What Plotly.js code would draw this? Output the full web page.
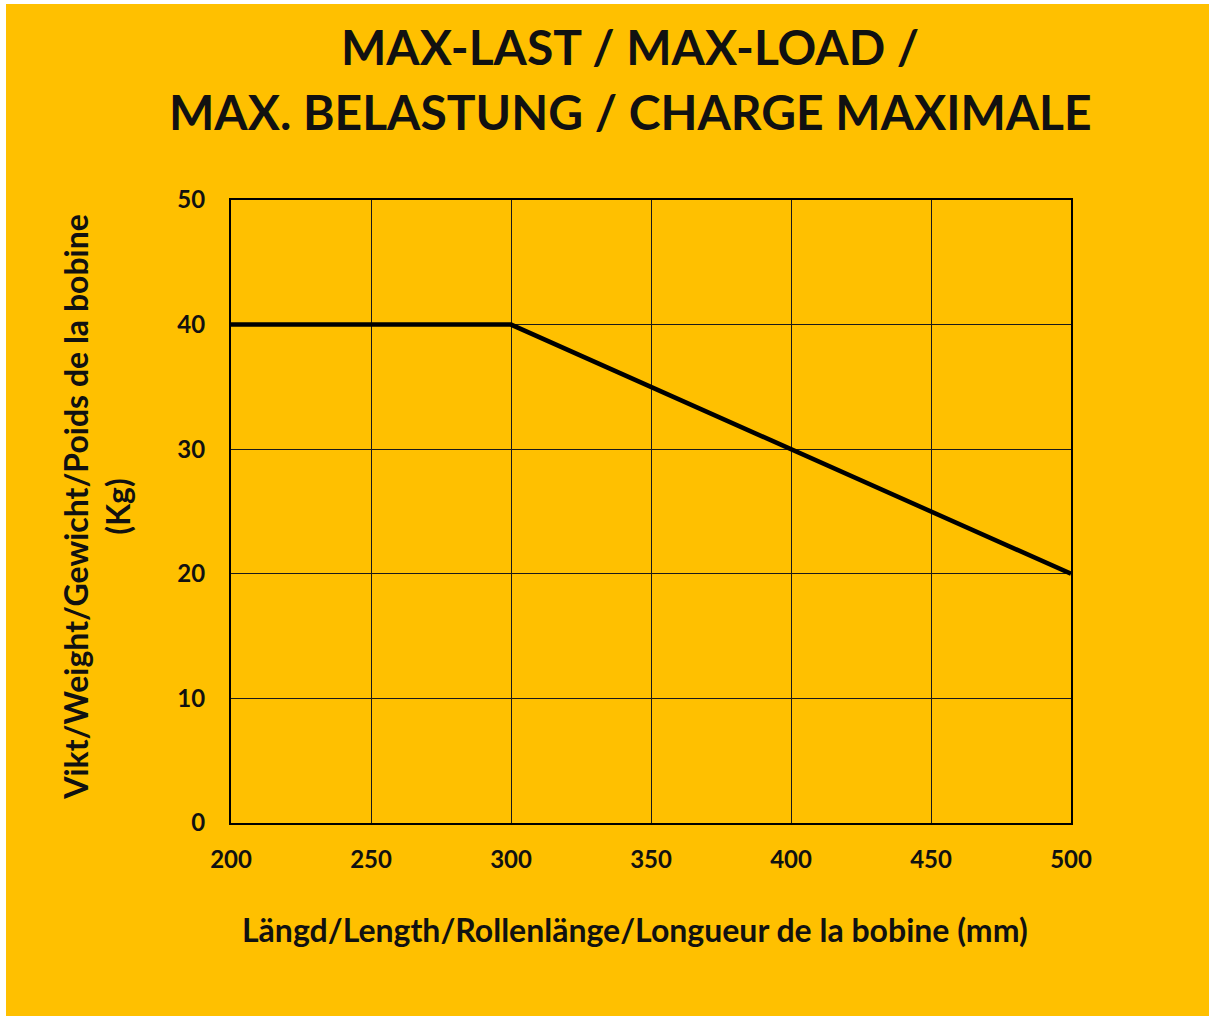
<!DOCTYPE html>
<html>
<head>
<meta charset="utf-8">
<script src="https://cdn.plot.ly/plotly-3.0.1.min.js"></script>
<style>
html,body{margin:0;padding:0;background:#ffffff;}
#chart{position:absolute;left:6px;top:4px;width:1203px;height:1012px;}
</style>
</head>
<body>
<div id="chart"></div>
<script>
const lengthsMm = [200, 300, 500];
const maxLoadKg = [40, 40, 20];
const xTicks = [200, 250, 300, 350, 400, 450, 500];
const yTicks = [0, 10, 20, 30, 40, 50];
const titleLines = ["MAX-LAST / MAX-LOAD /", "MAX. BELASTUNG / CHARGE MAXIMALE"];
const xTitle = "Längd/Length/Rollenlänge/Longueur de la bobine (mm)";
const yTitleLines = ["Vikt/Weight/Gewicht/Poids de la bobine", "(Kg)"];

const FONT = "Lato, 'Open Sans', sans-serif";
const TXT = "#111111";
const BG = "#FFC000";

const trace = {
  x: lengthsMm,
  y: maxLoadKg,
  type: "scatter",
  mode: "lines",
  line: {color: "#000000", width: 4.5},
  hoverinfo: "skip",
  showlegend: false
};

const titleFont = {family: FONT, size: 48, color: TXT, weight: "bold"};
const axisTitleFont = {family: FONT, size: 32, color: TXT, weight: "bold"};
const tickFont = {family: FONT, size: 24, color: TXT, weight: "bold"};

const layout = {
  width: 1203,
  height: 1012,
  paper_bgcolor: BG,
  plot_bgcolor: BG,
  margin: {l: 225, r: 138, t: 196, b: 193},
  font: {family: FONT, color: TXT},
  xaxis: {
    range: [200, 500],
    tickvals: xTicks,
    ticktext: xTicks.map(String),
    showgrid: true,
    gridcolor: "#1a1a1a",
    gridwidth: 1,
    zeroline: false,
    showline: true,
    linecolor: "#000000",
    linewidth: 2,
    mirror: true,
    ticks: "",
    ticklabelstandoff: 14,
    tickfont: tickFont,
    fixedrange: true
  },
  yaxis: {
    range: [0, 50],
    tickvals: yTicks,
    ticktext: yTicks.map(String),
    showgrid: true,
    gridcolor: "#1a1a1a",
    gridwidth: 1,
    zeroline: false,
    showline: true,
    linecolor: "#000000",
    linewidth: 2,
    mirror: true,
    ticks: "",
    ticklabelstandoff: 19,
    tickfont: tickFont,
    fixedrange: true
  },
  annotations: [
    {
      text: titleLines[0],
      xref: "paper", yref: "paper",
      x: 0.475, y: 1.2456,
      xanchor: "center", yanchor: "middle",
      showarrow: false,
      font: titleFont
    },
    {
      text: titleLines[1],
      xref: "paper", yref: "paper",
      x: 0.475, y: 1.1413,
      xanchor: "center", yanchor: "middle",
      showarrow: false,
      font: titleFont
    },
    {
      text: xTitle,
      xref: "paper", yref: "paper",
      x: 0.4815, y: -0.1717,
      xanchor: "center", yanchor: "middle",
      showarrow: false,
      font: axisTitleFont
    },
    {
      text: yTitleLines.join("<br>"),
      xref: "paper", yref: "paper",
      x: -0.16, y: 0.507,
      xanchor: "center", yanchor: "middle",
      textangle: -90,
      showarrow: false,
      font: axisTitleFont
    }
  ]
};

Plotly.newPlot("chart", [trace], layout, {displayModeBar: false, staticPlot: true});
</script>
</body>
</html>
